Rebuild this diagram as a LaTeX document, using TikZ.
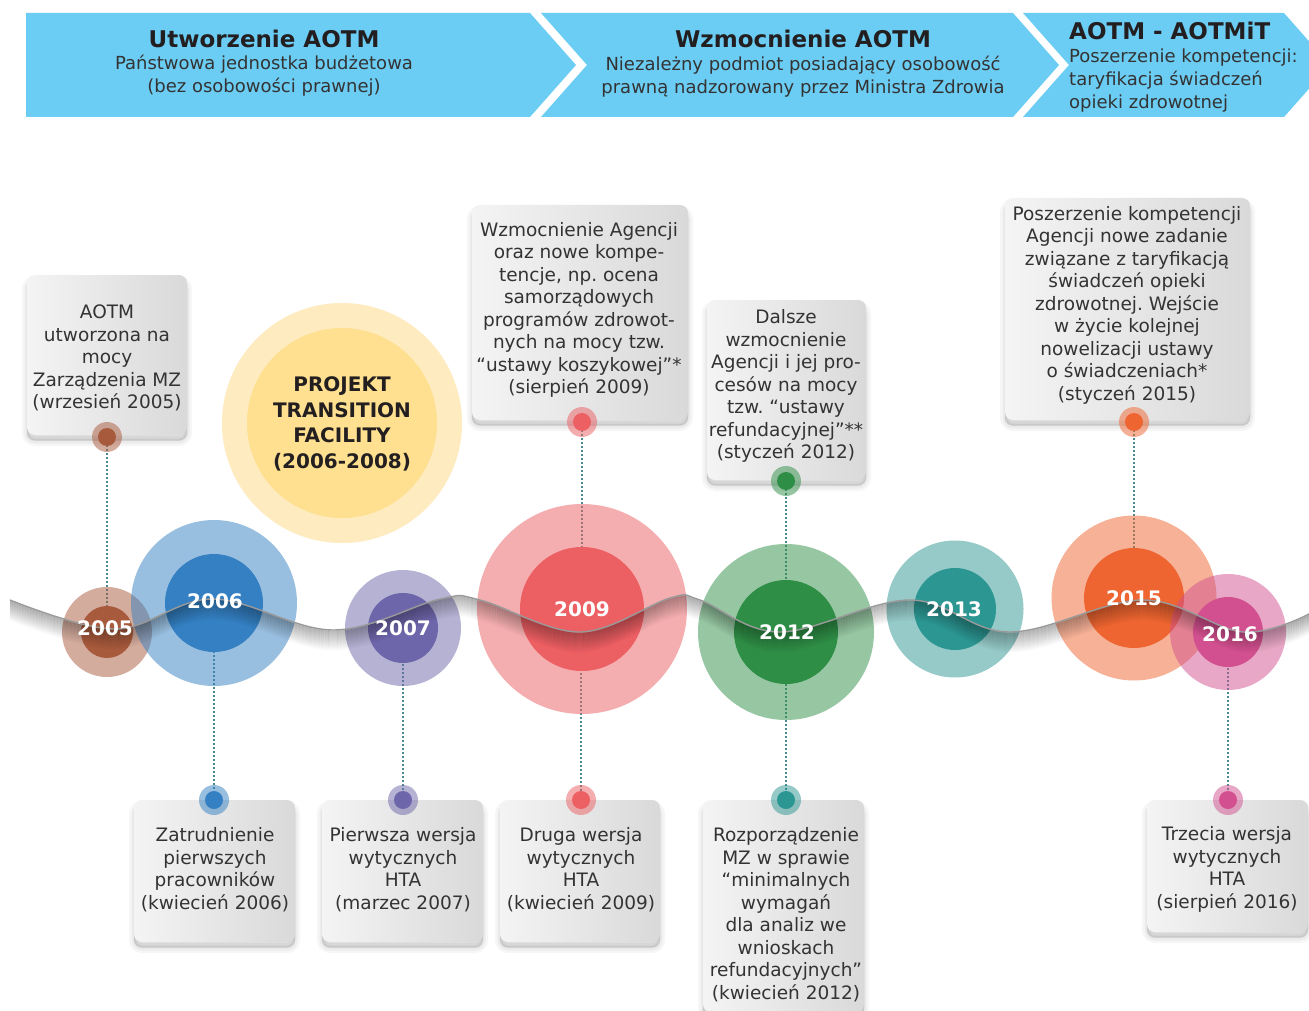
\documentclass[tikz,border=0pt]{standalone}
\usepackage{fontspec}
\setmainfont{DejaVu Sans}
\frenchspacing
\definecolor{hdr}{HTML}{6CCDF4}
\definecolor{txtc}{HTML}{333333}
\definecolor{ttlc}{HTML}{231F20}
\definecolor{boxL}{HTML}{F4F4F4}
\definecolor{boxR}{HTML}{D9D9D9}
\definecolor{dotc}{HTML}{4A8A90}
\definecolor{c05}{HTML}{A85A3C}
\definecolor{c06}{HTML}{3480C2}
\definecolor{c07}{HTML}{6E66AA}
\definecolor{c09}{HTML}{EC5F63}
\definecolor{c12}{HTML}{2F8E46}
\definecolor{c13}{HTML}{2C9692}
\definecolor{c15}{HTML}{EE6531}
\definecolor{c16}{HTML}{D2508F}
\definecolor{yelO}{HTML}{FEEBC0}
\definecolor{yelI}{HTML}{FEE090}
\newcommand\yearcirc[6]{%
  \node[circle, inner sep=0pt, minimum size=#4pt, fill=#6, fill opacity=0.5] (#1o) at (#2,#3) {};
  \node[circle, inner sep=0pt, minimum size=#5pt, fill=#6] (#1) at (#2,#3) {};}
\newcommand\tagmark[4]{%
  \node[circle, inner sep=0pt, minimum size=30pt, fill=#4, fill opacity=0.5] (#1o) at (#2,#3) {};
  \node[circle, inner sep=0pt, minimum size=18pt, fill=#4] (#1) at (#2,#3) {};}
\newcommand\wavecoords{(10,600) (115,629) (213,599) (333,630) (440,599) (480,600) (580,632) (670,598) (700,600) (780,632) (910,600) (1010,632) (1143,600) (1243,632) (1309,614)}
\begin{document}
\begin{tikzpicture}[x=1pt,y=-1pt,
  infobox/.style={rounded corners=8pt, left color=boxL, right color=boxR, inner sep=0pt,
    preaction={fill=black, draw=black, opacity=0.035, line width=10pt, transform canvas={yshift=-6pt}},
    preaction={fill=black, draw=black, opacity=0.04, line width=5pt, transform canvas={yshift=-6pt}},
    preaction={fill=black, draw=black, opacity=0.05, line width=1pt, transform canvas={yshift=-5pt}}},
  txt/.style={align=center, font=\fontsize{18.5}{22.5}\selectfont, text=txtc, inner sep=0pt},
  htitle/.style={font=\fontsize{23}{27}\bfseries\selectfont, text=ttlc, inner sep=0pt},
  hsub/.style={align=center, font=\fontsize{18}{23}\selectfont, text=txtc, inner sep=0pt},
  yr/.style={font=\fontsize{20}{24}\bfseries\selectfont, text=white, inner sep=0pt},
  dotline/.style={draw=dotc, line width=2pt, dash pattern=on 2pt off 2pt}]
\useasboundingbox (0,0) rectangle (1309,1011);
\fill[white] (0,0) rectangle (1309,1011);
% header chevrons
\fill[hdr] (26,13) -- (530,13) -- (576,65) -- (530,117) -- (26,117) -- cycle;
\fill[hdr] (541,13) -- (1013,13) -- (1059,65) -- (1013,117) -- (541,117) -- (587,65) -- cycle;
\fill[hdr] (1023,13) -- (1284,13) -- (1330,65) -- (1284,117) -- (1023,117) -- (1069,65) -- cycle;
\node[htitle] (h1) at (264,39) {Utworzenie AOTM};
\node[hsub] (h1s) at (264,76) {Państwowa jednostka budżetowa\\(bez osobowości prawnej)};
\node[htitle] (h2) at (803,39) {Wzmocnienie AOTM};
\node[hsub] (h2s) at (803,77) {Niezależny podmiot posiadający osobowość\\prawną nadzorowany przez Ministra Zdrowia};
\node[htitle, anchor=west] (h3) at (1069,31) {AOTM - AOTMiT};
\node[hsub, align=left, anchor=west] (h3s) at (1069,81) {Poszerzenie kompetencji:\\taryfikacja świadczeń\\opieki zdrowotnej};
% boxes
\node[infobox, minimum width=160pt, minimum height=160pt] (b1) at (107,355) {};
\node[infobox, minimum width=216pt, minimum height=215pt] (b2) at (580,312.5) {};
\node[infobox, minimum width=159pt, minimum height=180pt] (b3) at (786.5,390) {};
\node[infobox, minimum width=245pt, minimum height=222pt] (b4) at (1127.5,309) {};
\node[infobox, minimum width=161pt, minimum height=142pt] (b5) at (214.5,871) {};
\node[infobox, minimum width=161pt, minimum height=142pt] (b6) at (402.5,871) {};
\node[infobox, minimum width=160pt, minimum height=142pt] (b7) at (580,871) {};
\node[infobox, minimum width=161pt, minimum height=212pt] (b8) at (783.5,906) {};
\node[infobox, minimum width=161pt, minimum height=132pt] (b9) at (1227.5,866) {};
\node[txt] (t1) at (107,358) {AOTM\\utworzona na\\mocy\\Zarządzenia MZ\\(wrzesień 2005)};
\node[txt] (t2) at (579,310) {Wzmocnienie Agencji\\oraz nowe kompe-\\tencje, np. ocena\\samorządowych\\programów zdrowot-\\nych na mocy tzw.\\“ustawy koszykowej”*\\(sierpień 2009)};
\node[txt] (t3) at (786,386) {Dalsze\\wzmocnienie\\Agencji i jej pro-\\cesów na mocy\\tzw. “ustawy\\refundacyjnej”**\\(styczeń 2012)};
\node[txt] (t4) at (1127,305) {Poszerzenie kompetencji\\Agencji nowe zadanie\\związane z taryfikacją\\świadczeń opieki\\zdrowotnej. Wejście\\w życie kolejnej\\nowelizacji ustawy\\o świadczeniach*\\(styczeń 2015)};
\node[txt] (t5) at (215,869.5) {Zatrudnienie\\pierwszych\\pracowników\\(kwiecień 2006)};
\node[txt] (t6) at (403,869.5) {Pierwsza wersja\\wytycznych\\HTA\\(marzec 2007)};
\node[txt] (t7) at (581,869.5) {Druga wersja\\wytycznych\\HTA\\(kwiecień 2009)};
\node[txt] (t8) at (786,914.5) {Rozporządzenie\\MZ w sprawie\\“minimalnych\\wymagań\\dla analiz we\\wnioskach\\refundacyjnych”\\(kwiecień 2012)};
\node[txt] (t9) at (1227,869.5) {Trzecia wersja\\wytycznych\\HTA\\(sierpień 2016)};
% circle centres
\coordinate (p05) at (107,632);
\coordinate (p06) at (214,603);
\coordinate (p07) at (403,628);
\coordinate (p09) at (582,609);
\coordinate (p12) at (786,632);
\coordinate (p13) at (955,609);
\coordinate (p15) at (1134,598);
\coordinate (p16) at (1228,632);
% marker centres
\coordinate (q1) at (107,437);
\coordinate (q2) at (582,422);
\coordinate (q3) at (786,481);
\coordinate (q4) at (1134,422);
\coordinate (q5) at (214,800);
\coordinate (q6) at (403,800);
\coordinate (q7) at (581,800);
\coordinate (q8) at (786,800);
\coordinate (q9) at (1228,800);
% dotted connectors
\draw[dotline] (q1) -- (q1 |- p05);
\draw[dotline] (q2) -- (q2 |- p09);
\draw[dotline] (q3) -- (q3 |- p12);
\draw[dotline] (q4) -- (q4 |- p15);
\draw[dotline] (q5 |- p06) -- (q5);
\draw[dotline] (q6 |- p07) -- (q6);
\draw[dotline] (q7 |- p09) -- (q7);
\draw[dotline] (q8 |- p12) -- (q8);
\draw[dotline] (q9 |- p16) -- (q9);
\tagmark{m1}{107}{437}{c05}
\tagmark{m2}{582}{422}{c09}
\tagmark{m3}{786}{481}{c12}
\tagmark{m4}{1134}{422}{c15}
\tagmark{m5}{214}{800}{c06}
\tagmark{m6}{403}{800}{c07}
\tagmark{m7}{581}{800}{c09}
\tagmark{m8}{786}{800}{c13}
\tagmark{m9}{1228}{800}{c16}
% project circle
\node[circle, inner sep=0pt, minimum size=240pt, fill=yelO] (ypo) at (342,423) {};
\node[circle, inner sep=0pt, minimum size=190pt, fill=yelI] (yp) at (342,423) {};
\node[align=center, font=\fontsize{20}{25.5}\bfseries\selectfont, text=ttlc, inner sep=0pt] (ypt) at (342,424) {PROJEKT\\TRANSITION\\FACILITY\\(2006-2008)};
% year circles
\yearcirc{c2005}{107}{632}{90}{52}{c05}
\yearcirc{c2006}{214}{603}{166}{98}{c06}
\yearcirc{c2007}{403}{628}{116}{70}{c07}
\yearcirc{c2009}{582}{609}{210}{124}{c09}
\yearcirc{c2012}{786}{632}{176}{104}{c12}
\yearcirc{c2013}{955}{609}{137}{82}{c13}
\yearcirc{c2015}{1134}{598}{165}{100}{c15}
\yearcirc{c2016}{1228}{632}{116}{70}{c16}
% wave ribbon with soft shadow
\foreach \k [evaluate=\k as \o using {0.011*(21-\k)}] in {1,...,20} {
  \draw[line width=1.3pt, black, opacity=\o, yshift=-\k pt] plot[smooth, tension=0.6] coordinates {\wavecoords};
}
\draw[line width=1.4pt, black!40] plot[smooth, tension=0.6] coordinates {\wavecoords};
% year labels
\node[yr] (y05) at (105,628) {2005};
\node[yr] (y06) at (215,601) {2006};
\node[yr] (y07) at (403,628) {2007};
\node[yr] (y09) at (582,609) {2009};
\node[yr] (y12) at (787,632) {2012};
\node[yr] (y13) at (954,609) {2013};
\node[yr] (y15) at (1134,598) {2015};
\node[yr] (y16) at (1230,634) {2016};
\end{tikzpicture}
\end{document}
